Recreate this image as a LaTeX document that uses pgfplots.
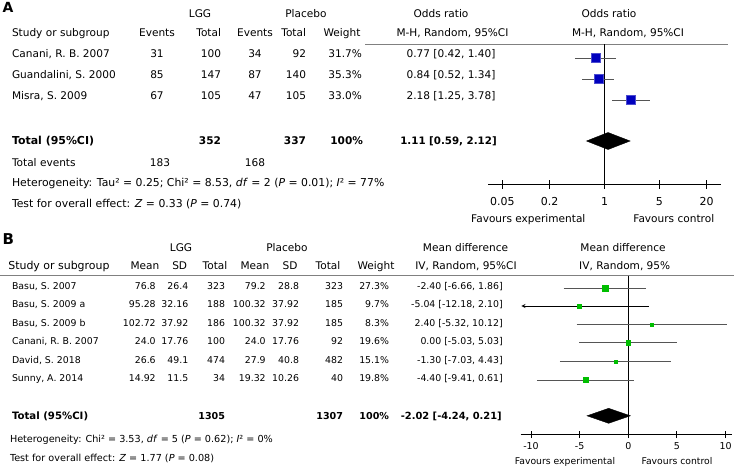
\documentclass[border=0pt]{standalone}
\usepackage{pgfplots}
\pgfplotsset{compat=1.18}
\usepackage{fontspec}
\setmainfont{DejaVu Sans}
\definecolor{sqblue}{RGB}{0,0,190}
\definecolor{sqgreen}{RGB}{0,190,0}
\definecolor{cigray}{RGB}{85,85,85}
\newcommand{\fa}{\fontsize{10.6}{12}\selectfont}
\newcommand{\fb}{\fontsize{9.4}{11}\selectfont}
\begin{document}
\begin{tikzpicture}
\useasboundingbox (0,0) rectangle (743bp,-473bp);
\begin{scope}[x=1bp,y=-1bp, every node/.style={inner sep=0pt, outer sep=0pt, font=\fa}]
% ---------------- Panel A ----------------
\node[anchor=mid west, font=\fontsize{14}{16}\selectfont\bfseries] at (2.5,10) {A};
\node[anchor=mid] at (200,15) {LGG};
\node[anchor=mid] at (306,15) {Placebo};
\node[anchor=mid] at (441,15) {Odds ratio};
\node[anchor=mid] at (609,15) {Odds ratio};
\node[anchor=mid west] at (12,34) {Study or subgroup};
\node[anchor=mid] at (157,34) {Events};
\node[anchor=mid east] at (221,34) {Total};
\node[anchor=mid] at (255,34) {Events};
\node[anchor=mid east] at (306,34) {Total};
\node[anchor=mid] at (342,34) {Weight};
\node[anchor=mid] at (452.5,34) {M-H, Random, 95\%CI};
\node[anchor=mid] at (628,34) {M-H, Random, 95\%CI};
\draw[gray, line width=0.8bp] (365,44.5) -- (728,44.5);
% rows
\node[anchor=mid west] at (12,55) {Canani, R. B. 2007};
\node[anchor=mid] at (157,55) {31};
\node[anchor=mid east] at (221,55) {100};
\node[anchor=mid] at (255,55) {34};
\node[anchor=mid east] at (306,55) {92};
\node[anchor=mid east] at (362,55) {31.7\%};
\node[anchor=mid] at (451,55) {0.77 [0.42, 1.40]};
\node[anchor=mid west] at (12,76) {Guandalini, S. 2000};
\node[anchor=mid] at (157,76) {85};
\node[anchor=mid east] at (221,76) {147};
\node[anchor=mid] at (255,76) {87};
\node[anchor=mid east] at (306,76) {140};
\node[anchor=mid east] at (362,76) {35.3\%};
\node[anchor=mid] at (451,76) {0.84 [0.52, 1.34]};
\node[anchor=mid west] at (12,97) {Misra, S. 2009};
\node[anchor=mid] at (157,97) {67};
\node[anchor=mid east] at (221,97) {105};
\node[anchor=mid] at (255,97) {47};
\node[anchor=mid east] at (306,97) {105};
\node[anchor=mid east] at (362,97) {33.0\%};
\node[anchor=mid] at (451,97) {2.18 [1.25, 3.78]};
% total
\node[anchor=mid west, font=\fontsize{11}{13}\selectfont\bfseries] at (12,141.7) {Total (95\%CI)};
\node[anchor=mid east, font=\fa\bfseries] at (221,141.7) {352};
\node[anchor=mid east, font=\fa\bfseries] at (306,141.7) {337};
\node[anchor=mid east, font=\fa\bfseries] at (363,141.7) {100\%};
\node[anchor=mid east, font=\fontsize{10.3}{12}\selectfont\bfseries] at (496.7,141.7) {1.11 [0.59, 2.12]};
\node[anchor=mid west] at (12,163.3) {Total events};
\node[anchor=mid] at (160,163.3) {183};
\node[anchor=mid] at (255,163.3) {168};
\node[anchor=mid west, font=\fontsize{10.9}{12}\selectfont] at (12,183.3) {Heterogeneity: Tau² = 0.25; Chi² = 8.53, \textit{df} = 2 (\textit{P} = 0.01); \textit{I}² = 77\%};
\node[anchor=mid west, font=\fontsize{10.9}{12}\selectfont] at (12,204.3) {Test for overall effect: \textit{Z} = 0.33 (\textit{P} = 0.74)};
\node[anchor=mid] at (528.3,219.3) {Favours experimental};
\node[anchor=mid] at (673.8,219.3) {Favours control};
% ---------------- Panel B ----------------
\node[anchor=mid west, font=\fontsize{15}{17}\selectfont\bfseries] at (2.5,242) {B};
\node[anchor=mid] at (181,248.3) {LGG};
\node[anchor=mid] at (287,248.3) {Placebo};
\node[anchor=mid] at (465.5,248.3) {Mean difference};
\node[anchor=mid] at (623,248.3) {Mean difference};
\node[anchor=mid west, font=\fontsize{11}{13}\selectfont] at (8.3,266.7) {Study or subgroup};
\node[anchor=mid] at (145,266.7) {Mean};
\node[anchor=mid] at (179.7,266.7) {SD};
\node[anchor=mid] at (215,266.7) {Total};
\node[anchor=mid] at (255,266.7) {Mean};
\node[anchor=mid] at (290,266.7) {SD};
\node[anchor=mid] at (328,266.7) {Total};
\node[anchor=mid] at (376,266.7) {Weight};
\node[anchor=mid] at (466,266.7) {IV, Random, 95\%CI};
\node[anchor=mid] at (624.7,266.7) {IV, Random, 95\%};
\draw[gray, line width=0.8bp] (0,275.5) -- (734,275.5);
\begin{scope}[every node/.style={inner sep=0pt, outer sep=0pt, font=\fb}]
\node[anchor=mid west] at (12,286.7) {Basu, S. 2007};
\node[anchor=mid east] at (155.7,286.7) {76.8};
\node[anchor=mid east] at (188.3,286.7) {26.4};
\node[anchor=mid east] at (225,286.7) {323};
\node[anchor=mid east] at (265.7,286.7) {79.2};
\node[anchor=mid east] at (299,286.7) {28.8};
\node[anchor=mid east] at (343,286.7) {323};
\node[anchor=mid east] at (389,286.7) {27.3\%};
\node[anchor=mid east] at (502.7,286.7) {-2.40 [-6.66, 1.86]};
\node[anchor=mid west] at (12,305.2) {Basu, S. 2009 a};
\node[anchor=mid east] at (155.7,305.2) {95.28};
\node[anchor=mid east] at (188.3,305.2) {32.16};
\node[anchor=mid east] at (225,305.2) {188};
\node[anchor=mid east] at (265.7,305.2) {100.32};
\node[anchor=mid east] at (299,305.2) {37.92};
\node[anchor=mid east] at (343,305.2) {185};
\node[anchor=mid east] at (389,305.2) {9.7\%};
\node[anchor=mid east] at (502.7,305.2) {-5.04 [-12.18, 2.10]};
\node[anchor=mid west] at (12,323.7) {Basu, S. 2009 b};
\node[anchor=mid east] at (155.7,323.7) {102.72};
\node[anchor=mid east] at (188.3,323.7) {37.92};
\node[anchor=mid east] at (225,323.7) {186};
\node[anchor=mid east] at (265.7,323.7) {100.32};
\node[anchor=mid east] at (299,323.7) {37.92};
\node[anchor=mid east] at (343,323.7) {185};
\node[anchor=mid east] at (389,323.7) {8.3\%};
\node[anchor=mid east] at (502.7,323.7) {2.40 [-5.32, 10.12]};
\node[anchor=mid west] at (12,342.2) {Canani, R. B. 2007};
\node[anchor=mid east] at (155.7,342.2) {24.0};
\node[anchor=mid east] at (188.3,342.2) {17.76};
\node[anchor=mid east] at (225,342.2) {100};
\node[anchor=mid east] at (265.7,342.2) {24.0};
\node[anchor=mid east] at (299,342.2) {17.76};
\node[anchor=mid east] at (343,342.2) {92};
\node[anchor=mid east] at (389,342.2) {19.6\%};
\node[anchor=mid east] at (502.7,342.2) {0.00 [-5.03, 5.03]};
\node[anchor=mid west] at (12,360.7) {David, S. 2018};
\node[anchor=mid east] at (155.7,360.7) {26.6};
\node[anchor=mid east] at (188.3,360.7) {49.1};
\node[anchor=mid east] at (225,360.7) {474};
\node[anchor=mid east] at (265.7,360.7) {27.9};
\node[anchor=mid east] at (299,360.7) {40.8};
\node[anchor=mid east] at (343,360.7) {482};
\node[anchor=mid east] at (389,360.7) {15.1\%};
\node[anchor=mid east] at (502.7,360.7) {-1.30 [-7.03, 4.43]};
\node[anchor=mid west] at (12,379.2) {Sunny, A. 2014};
\node[anchor=mid east] at (155.7,379.2) {14.92};
\node[anchor=mid east] at (188.3,379.2) {11.5};
\node[anchor=mid east] at (225,379.2) {34};
\node[anchor=mid east] at (265.7,379.2) {19.32};
\node[anchor=mid east] at (299,379.2) {10.26};
\node[anchor=mid east] at (343,379.2) {40};
\node[anchor=mid east] at (389,379.2) {19.8\%};
\node[anchor=mid east] at (502.7,379.2) {-4.40 [-9.41, 0.61]};
\node[anchor=mid west, font=\fontsize{10.2}{12}\selectfont\bfseries] at (12,416.7) {Total (95\%CI)};
\node[anchor=mid east, font=\fontsize{9.6}{11}\selectfont\bfseries] at (225,416.7) {1305};
\node[anchor=mid east, font=\fontsize{9.6}{11}\selectfont\bfseries] at (343,416.7) {1307};
\node[anchor=mid east, font=\fontsize{9.6}{11}\selectfont\bfseries] at (389,416.7) {100\%};
\node[anchor=mid east, font=\fontsize{9.9}{11}\selectfont\bfseries] at (501.7,416.7) {-2.02 [-4.24, 0.21]};
\node[anchor=mid west, font=\fontsize{9.7}{11}\selectfont] at (10,440) {Heterogeneity: Chi² = 3.53, \textit{df} = 5 (\textit{P} = 0.62); \textit{I}² = 0\%};
\node[anchor=mid west, font=\fontsize{9.7}{11}\selectfont] at (10,458.3) {Test for overall effect: \textit{Z} = 1.77 (\textit{P} = 0.08)};
\node[anchor=mid, font=\fontsize{9.3}{11}\selectfont] at (565,462) {Favours experimental};
\node[anchor=mid, font=\fontsize{9.3}{11}\selectfont] at (677,462) {Favours control};
\end{scope}
\end{scope}

% ---------------- Axis A (log odds ratio) ----------------
\begin{axis}[
  at={(488.3bp,-184bp)}, anchor=south west,
  scale only axis, width=232.7bp, height=139.5bp,
  xmode=log, xmin=0.0331, xmax=30.5,
  ymin=-184, ymax=-44.5,
  axis x line=bottom, axis y line=none,
  x axis line style={-, line width=0.9bp},
  xtick={0.05,0.2,1,5,20}, xticklabels={0.05,0.2,1,5,20},
  xminorticks=false, xtick align=center, major tick length=9bp,
  tick style={black, line width=0.9bp},
  xticklabel style={font=\fontsize{11}{13}\selectfont, yshift=-5bp},
  clip=false,
]
\addplot[black, line width=0.8bp] coordinates {(1,-44.5) (1,-184)};
\addplot[cigray, line width=0.9bp] coordinates {(0.42,-58) (1.40,-58)};
\addplot[cigray, line width=0.9bp] coordinates {(0.52,-79) (1.34,-79)};
\addplot[cigray, line width=0.9bp] coordinates {(1.25,-100) (3.78,-100)};
\addplot[only marks, mark=square*, mark size=4.6bp, mark options={fill=sqblue, draw=sqblue!70!white, line width=0.4bp}] coordinates {(0.77,-58) (0.84,-79) (2.18,-100)};
\addplot[fill=black, draw=black] coordinates {(0.59,-141) (1.11,-132.5) (2.12,-141) (1.11,-149.5)} -- cycle;
\end{axis}

% ---------------- Axis B (mean difference) ----------------
\begin{axis}[
  at={(520.7bp,-434.3bp)}, anchor=south west,
  scale only axis, width=211bp, height=158.8bp,
  xmin=-11.06, xmax=10.63,
  ymin=-434.3, ymax=-275.5,
  axis x line=bottom, axis y line=none,
  x axis line style={-, line width=0.9bp},
  xtick={-10,-5,0,5,10}, xticklabels={-10,-5,0,5,10},
  xtick align=center, major tick length=7.6bp,
  tick style={black, line width=0.9bp},
  xticklabel style={font=\fontsize{9.5}{11}\selectfont, yshift=-1bp},
  clip=false,
]
\addplot[black, line width=0.8bp] coordinates {(0,-275.5) (0,-434.3)};
\addplot[cigray, line width=0.9bp] coordinates {(-6.66,-288.3) (1.86,-288.3)};
\addplot[black, line width=0.9bp, -stealth] coordinates {(2.10,-306) (-11.0,-306)};
\addplot[cigray, line width=0.9bp] coordinates {(-5.32,-324.3) (10.12,-324.3)};
\addplot[cigray, line width=0.9bp] coordinates {(-5.03,-342.7) (5.03,-342.7)};
\addplot[cigray, line width=0.9bp] coordinates {(-7.03,-361.7) (4.43,-361.7)};
\addplot[cigray, line width=0.9bp] coordinates {(-9.41,-380) (0.61,-380)};
\addplot[only marks, mark=square*, mark size=3.1bp, mark options={fill=sqgreen, draw=sqgreen}] coordinates {(-2.40,-288.3)};
\addplot[only marks, mark=square*, mark size=1.7bp, mark options={fill=sqgreen, draw=sqgreen}] coordinates {(-5.04,-306)};
\addplot[only marks, mark=square*, mark size=1.6bp, mark options={fill=sqgreen, draw=sqgreen}] coordinates {(2.40,-324.3)};
\addplot[only marks, mark=square*, mark size=2.4bp, mark options={fill=sqgreen, draw=sqgreen}] coordinates {(0.00,-342.7)};
\addplot[only marks, mark=square*, mark size=1.9bp, mark options={fill=sqgreen, draw=sqgreen}] coordinates {(-1.30,-361.7)};
\addplot[only marks, mark=square*, mark size=2.4bp, mark options={fill=sqgreen, draw=sqgreen}] coordinates {(-4.40,-380)};
\addplot[fill=black, draw=black] coordinates {(-4.24,-415.8) (-2.02,-408.3) (0.21,-415.8) (-2.02,-423.3)} -- cycle;
\end{axis}
\end{tikzpicture}
\end{document}
